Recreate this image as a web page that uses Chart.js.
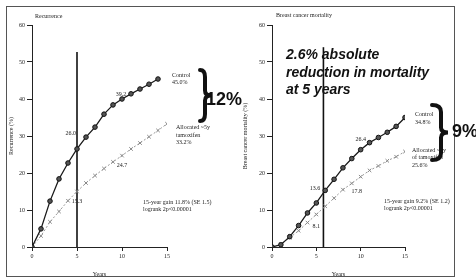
<!DOCTYPE html>
<html>
<head>
<meta charset="utf-8">
<script src="https://cdn.jsdelivr.net/npm/chart.js@4.4.0/dist/chart.umd.min.js"></script>
<style>
  html, body { margin: 0; padding: 0; background: #fff; }
  #wrap { position: relative; width: 476px; height: 278px; overflow: hidden; font-family: "Liberation Sans", Arial, sans-serif; }
  #frame { position: absolute; left: 6px; top: 6px; width: 447px; height: 269px; border: 1px solid #555; }
  canvas { position: absolute; top: 0; }
  #left { left: 0; }
  #right { left: 236px; }
  .big { position: absolute; font-weight: bold; font-size: 18px; line-height: 18px; color: #111; white-space: nowrap; }
  #note { position: absolute; left: 286px; top: 46px; font-weight: bold; font-style: italic; font-size: 14px; line-height: 17.5px; color: #111; white-space: nowrap; }
</style>
</head>
<body>
<div id="wrap">
  <div id="frame"></div>
  <canvas id="left" width="236" height="278"></canvas>
  <canvas id="right" width="240" height="278"></canvas>
  <div class="big" style="left:206px;top:90px">12%</div>
  <div class="big" style="left:452px;top:122px">9%</div>
  <div id="note">2.6% absolute<br>reduction in mortality<br>at 5 years</div>
</div>
<script>
// years since randomisation
const years = [0, 1, 2, 3, 4, 5, 6, 7, 8, 9, 10, 11, 12, 13, 14, 15]
const recurrenceControl = [0, 4.9, 12.4, 18.4, 22.7, 26.5, 29.7, 32.4, 35.9, 38.4, 40.0, 41.4, 42.7, 44.0, 45.4]
const recurrenceTamoxifen = [0, 3.0, 6.8, 9.6, 12.5, 15.0, 17.3, 19.3, 21.2, 23.0, 24.7, 26.5, 28.1, 29.8, 31.5, 33.3]
const mortalityControl = [0, 0.6, 2.8, 5.8, 9.2, 11.9, 15.3, 18.3, 21.4, 23.9, 26.3, 28.2, 29.6, 31.0, 32.6, 35.0]
const mortalityTamoxifen = [0, 0.8, 2.5, 4.4, 6.6, 8.8, 11.0, 13.2, 15.5, 17.2, 19.0, 20.7, 21.9, 23.3, 24.4, 25.8]
const yTicks = [0, 10, 20, 30, 40, 50, 60]
const xTicks = [0, 5, 10, 15]
// vertical marker line: [year, top value]
const markLeft = [5, 52.7]
const markRight = [5.8, 54]

const serif = '"Liberation Serif", "Times New Roman", serif'
const ink = "#222"

const pts = vals => vals.map((v, i) => ({ x: years[i], y: v }))

function brace(ctx, b) {
  const m = (b.top + b.bottom) / 2
  ctx.beginPath()
  ctx.moveTo(b.left, b.top)
  ctx.quadraticCurveTo(b.stem, b.top, b.stem, b.top + 7)
  ctx.lineTo(b.stem, m - 5)
  ctx.quadraticCurveTo(b.stem, m, b.tip, m)
  ctx.quadraticCurveTo(b.stem, m, b.stem, m + 5)
  ctx.lineTo(b.stem, b.bottom - 7)
  ctx.quadraticCurveTo(b.stem, b.bottom, b.left, b.bottom)
  ctx.lineWidth = 4
  ctx.lineCap = "round"
  ctx.strokeStyle = "#111"
  ctx.stroke()
}

const notes = {
  id: "notes",
  afterDatasetsDraw(chart, args, opts) {
    const ctx = chart.ctx
    const xs = chart.scales.x, ys = chart.scales.y
    ctx.save()
    ctx.fillStyle = ink
    ctx.textBaseline = "middle"
    for (const n of opts.items || []) {
      ctx.font = "6px " + serif
      ctx.textAlign = n.align || "left"
      let px = n.px, py = n.py
      if (n.x !== undefined) {
        px = xs.getPixelForValue(n.x) + (n.dx || 0)
        py = ys.getPixelForValue(n.y) + (n.dy || 0)
      }
      const lines = [].concat(n.text)
      lines.forEach((t, i) => ctx.fillText(t, px, py + i * 7.5))
    }
    if (opts.brace) brace(ctx, opts.brace)
    ctx.restore()
  }
}

function build(canvas, cfg) {
  return new Chart(canvas, {
    type: "scatter",
    data: {
      datasets: [
        {
          data: pts(cfg.control),
          showLine: true,
          borderColor: "#1a1a1a",
          borderWidth: 1.3,
          pointStyle: "circle",
          pointRadius: 2.3,
          pointBackgroundColor: "#555",
          pointBorderColor: "#111",
          pointBorderWidth: 1
        },
        {
          data: pts(cfg.tamoxifen),
          showLine: true,
          borderColor: "#999",
          borderWidth: 1,
          borderDash: [2, 2],
          pointStyle: "crossRot",
          pointRadius: 2.5,
          pointBorderColor: "#888",
          pointBorderWidth: 1
        },
        {
          data: [{ x: cfg.mark[0], y: 0 }, { x: cfg.mark[0], y: cfg.mark[1] }],
          showLine: true,
          borderColor: "#111",
          borderWidth: 1.6,
          pointRadius: 0
        }
      ]
    },
    options: {
      responsive: false,
      animation: false,
      events: [],
      layout: { padding: { left: 0, right: cfg.padRight, top: 25, bottom: 0 } },
      plugins: {
        legend: { display: false },
        tooltip: { enabled: false },
        notes: { items: cfg.items, brace: cfg.brace }
      },
      scales: {
        x: {
          type: "linear", min: 0, max: 15,
          afterBuildTicks: s => { s.ticks = xTicks.map(v => ({ value: v })) },
          afterFit: s => { s.height = 31 },
          grid: { drawOnChartArea: false, drawTicks: true, tickLength: 4, color: ink },
          border: { display: true, color: ink, width: 1 },
          ticks: { color: ink, font: { family: serif, size: 6 }, padding: 2, maxRotation: 0 },
          title: { display: true, text: "Years", color: ink, font: { family: serif, size: 6 }, padding: { top: 2, bottom: 0 } }
        },
        y: {
          min: 0, max: 60,
          afterBuildTicks: s => { s.ticks = yTicks.map(v => ({ value: v })) },
          afterFit: s => { s.width = cfg.axisWidth },
          grid: { drawOnChartArea: false, drawTicks: true, tickLength: 5, color: ink },
          border: { display: true, color: ink, width: 1 },
          ticks: { color: ink, font: { family: serif, size: 6 }, padding: 2 },
          title: { display: true, text: cfg.yTitle, color: ink, font: { family: serif, size: 6 }, padding: { top: cfg.titlePad, bottom: 0 } }
        }
      }
    },
    plugins: [notes]
  })
}

build(document.getElementById("left"), {
  control: recurrenceControl,
  tamoxifen: recurrenceTamoxifen,
  mark: markLeft,
  padRight: 69,
  axisWidth: 32,
  titlePad: 8,
  yTitle: "Recurrence (%)",
  brace: { left: 200, stem: 205, tip: 211, top: 70, bottom: 121 },
  items: [
    { px: 35, py: 16, text: "Recurrence" },
    { x: 5, y: 26.5, dx: -1, dy: -16, text: "26.0", align: "right" },
    { x: 5, y: 15, dx: 0, dy: 10, text: "15.3", align: "center" },
    { x: 10, y: 24.7, dx: 0, dy: 10, text: "24.7", align: "center" },
    { x: 10, y: 40, dx: -1, dy: -5, text: "39.2", align: "center" },
    { x: 14, y: 45.4, dx: 14, dy: -4, text: ["Control", "45.0%"] },
    { x: 15, y: 33.3, dx: 9, dy: 4, text: ["Allocated ~5y", "tamoxifen", "33.2%"] },
    { px: 143, py: 202, text: ["15-year gain 11.8% (SE 1.5)", "logrank 2p<0.00001"] }
  ]
})

build(document.getElementById("right"), {
  control: mortalityControl,
  tamoxifen: mortalityTamoxifen,
  mark: markRight,
  padRight: 71,
  axisWidth: 36,
  titlePad: 6,
  yTitle: "Breast cancer mortality (%)",
  brace: { left: 196, stem: 205, tip: 212, top: 105, bottom: 160 },
  items: [
    { px: 40, py: 15, text: "Breast cancer mortality" },
    { x: 6, y: 15.3, dx: -5, dy: -2, text: "13.6", align: "right" },
    { x: 5, y: 8.8, dx: 0, dy: 12, text: "8.1", align: "center" },
    { x: 9, y: 17.2, dx: 5, dy: 8, text: "17.8", align: "center" },
    { x: 10, y: 26.3, dx: 0, dy: -10, text: "26.4", align: "center" },
    { x: 15, y: 35.0, dx: 10, dy: -3, text: ["Control", "34.8%"] },
    { x: 15, y: 25.8, dx: 7, dy: -1.5, text: ["Allocated ~5y", "of tamoxifen", "25.6%"] },
    { px: 148, py: 201, text: ["15-year gain 9.2% (SE 1.2)", "logrank 2p<0.00001"] }
  ]
})
</script>
</body>
</html>
